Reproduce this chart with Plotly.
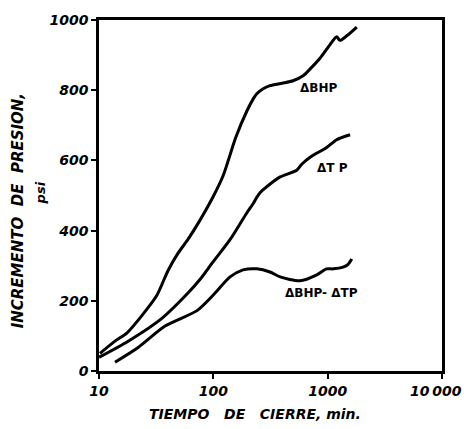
import math
import plotly.graph_objects as go

# Shut-in time (min) and pressure increments (psi)
t_bhp = [10.2, 13.8, 17.5, 24, 32, 40, 49, 60, 74, 99, 122, 157, 196, 224, 240,
         273, 313, 400, 498, 610, 700, 857, 1050, 1200, 1280, 1470, 1798]
dp_bhp = [50, 85, 108, 160, 215, 285, 335, 375, 422, 495, 557, 665, 740, 776, 790,
          804, 813, 820, 827, 841, 860, 891, 930, 952, 942, 955, 980]

t_tp = [10, 18, 35.5, 60, 77, 99, 140, 196, 224, 240, 256, 293, 384, 536, 593,
        702, 980, 1200, 1571]
dp_tp = [39, 85, 150, 222, 262, 310, 374, 450, 478, 495, 508, 525, 553, 572, 589,
         609, 637, 659, 673]

t_diff = [13.8, 22, 37.8, 72, 99, 140, 182, 240, 313, 384, 573, 803, 980, 1120,
          1365, 1510, 1625]
dp_diff = [25, 67, 128, 172, 215, 268, 288, 291, 282, 268, 257, 274, 291, 291,
           296, 304, 319]

x_ticks = [10, 100, 1000, 10000]
x_tick_text = ["10", "100", "1000", ""]
last_tick_text = "10\u2009000"
y_ticks = [0, 200, 400, 600, 800, 1000]

FONT = "DejaVu Sans"
tick_font = dict(family=FONT, size=14, color="black", weight="bold", style="italic")

fig = go.Figure()
for xs, ys in [(t_bhp, dp_bhp), (t_tp, dp_tp), (t_diff, dp_diff)]:
    fig.add_trace(go.Scatter(
        x=xs, y=ys, mode="lines",
        line=dict(color="black", width=3, shape="spline", smoothing=0.7),
        showlegend=False, hoverinfo="skip",
    ))

axis_common = dict(
    showline=True, linecolor="black", linewidth=2.5, mirror=True,
    ticks="outside", ticklen=5, tickwidth=2, tickcolor="black",
    showgrid=False, zeroline=False, tickfont=tick_font,
)

fig.update_xaxes(type="log", range=[1, 4], tickvals=x_ticks,
                 ticktext=x_tick_text, **axis_common)
fig.update_yaxes(range=[0, 1000], tickvals=y_ticks, **axis_common)

# the last decade label sits left of its tick so it stays inside the page
fig.add_annotation(x=math.log10(x_ticks[-1]), y=0, xref="x", yref="y",
                   text=last_tick_text, showarrow=False, xanchor="right",
                   yanchor="top", xshift=22, yshift=-10, font=tick_font)

label_font = dict(family=FONT, size=12, color="black", weight="bold")
curve_labels = [
    ("ΔBHP", 545, 805),
    ("ΔT P", 776, 578),
    ("ΔBHP- ΔTP", 408, 221),
]
for text, xv, yv in curve_labels:
    fig.add_annotation(x=math.log10(xv), y=yv, xref="x", yref="y", text=text,
                       showarrow=False, xanchor="left", yanchor="middle",
                       font=label_font)

title_font = dict(family=FONT, size=14, color="black", weight="bold", style="italic")
fig.add_annotation(x=0.455, y=-0.123, xref="paper", yref="paper",
                   text="TIEMPO   DE   CIERRE, min.", showarrow=False,
                   xanchor="center", yanchor="middle", font=title_font)
fig.add_annotation(x=-0.236, y=0.455, xref="paper", yref="paper",
                   text="INCREMENTO  DE  PRESION,", showarrow=False, textangle=-90,
                   xanchor="center", yanchor="middle",
                   font=dict(family=FONT, size=15, color="black", weight="bold",
                             style="italic"))
fig.add_annotation(x=-0.172, y=0.506, xref="paper", yref="paper",
                   text="psi", showarrow=False, textangle=-90,
                   xanchor="center", yanchor="middle",
                   font=dict(family=FONT, size=13, color="black", weight="bold",
                             style="italic"))

fig.update_layout(
    width=464, height=429,
    margin=dict(l=99, r=22, t=13, b=58),
    paper_bgcolor="white", plot_bgcolor="white",
)

fig.write_html("out.html")
